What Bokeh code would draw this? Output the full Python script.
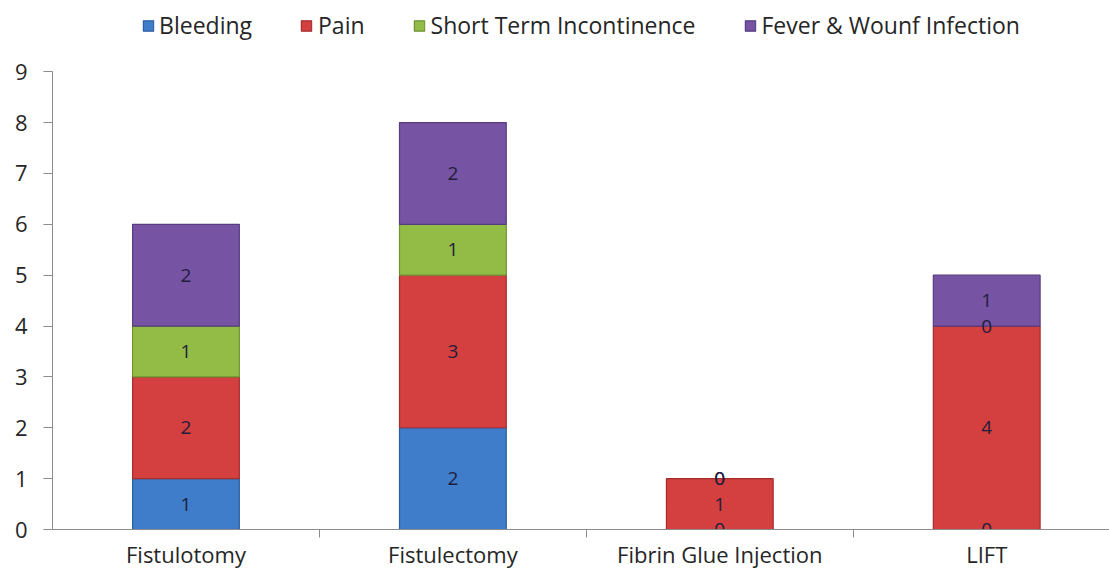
from bokeh.plotting import figure
from bokeh.models import ColumnDataSource, Range1d, FixedTicker, Legend, LegendItem
from bokeh.core.properties import value
from bokeh.embed import file_html
from bokeh.resources import INLINE

categories = ["Fistulotomy", "Fistulectomy", "Fibrin Glue Injection", "LIFT"]
series_names = ["Bleeding", "Pain", "Short Term Incontinence", "Fever & Wounf Infection"]
bleeding = [1, 2, 0, 0]
pain = [2, 3, 1, 4]
incontinence = [1, 1, 0, 0]
fever = [2, 2, 0, 1]
y_ticks = [0, 1, 2, 3, 4, 5, 6, 7, 8, 9]

series_values = [bleeding, pain, incontinence, fever]
fills = ["#3F7DCA", "#D43F3F", "#93BC46", "#7654A3"]
lines = ["#2D5E9E", "#A32E2E", "#6F9232", "#573D80"]

x_pos = [i + 0.5 for i in range(len(categories))]

# frame spans the full height; the y axis is bounded to 0..9 so that the
# legend can sit inside the frame above the axis top
p = figure(width=1109, height=571, x_range=Range1d(0, 3.96), y_range=Range1d(0, 10.4),
           output_backend="svg", toolbar_location=None,
           min_border_left=52, min_border_right=0, min_border_top=0, min_border_bottom=42)
p.outline_line_color = None
p.xgrid.visible = False
p.ygrid.visible = False
p.background_fill_color = "white"

bottoms = [0] * len(categories)
items = []
label_x, label_y, label_t = [], [], []
for name, vals, fc, lc in zip(series_names, series_values, fills, lines):
    tops = [b + v for b, v in zip(bottoms, vals)]
    keep = [i for i, v in enumerate(vals) if v > 0]
    src = ColumnDataSource(dict(x=[x_pos[i] for i in keep],
                                top=[tops[i] for i in keep],
                                bottom=[bottoms[i] for i in keep]))
    r = p.vbar(x="x", top="top", bottom="bottom", width=0.4, source=src,
               fill_color=fc, line_color=lc, line_width=1.2)
    items.append(LegendItem(label=name, renderers=[r]))
    for i, v in enumerate(vals):
        label_x.append(x_pos[i])
        label_y.append((bottoms[i] + tops[i]) / 2)
        label_t.append(str(v))
    bottoms = tops

p.text(x=label_x, y=label_y, text=label_t, text_align="center", text_baseline="middle",
       text_font=value("Open Sans"), text_font_size="19px", text_color="#1E1E3C")

# y axis
p.yaxis.ticker = FixedTicker(ticks=y_ticks)
p.yaxis.bounds = (0, 9)
p.yaxis.axis_line_color = "#8C8C8C"
p.yaxis.major_tick_line_color = "#8C8C8C"
p.yaxis.major_tick_out = 9
p.yaxis.major_tick_in = 0
p.yaxis.minor_tick_line_color = None
p.yaxis.major_label_standoff = 16
p.yaxis.major_label_text_font = "Open Sans"
p.yaxis.major_label_text_font_size = "22px"
p.yaxis.major_label_text_color = "#262626"

# x axis
p.xaxis.ticker = FixedTicker(ticks=x_pos, minor_ticks=[1, 2, 3])
p.xaxis.major_label_overrides = {x: c for x, c in zip(x_pos, categories)}
p.xaxis.axis_line_color = "#8C8C8C"
p.xaxis.major_tick_line_color = None
p.xaxis.major_tick_out = 0
p.xaxis.major_tick_in = 0
p.xaxis.minor_tick_line_color = "#8C8C8C"
p.xaxis.minor_tick_out = 8
p.xaxis.minor_tick_in = 0
p.xaxis.major_label_standoff = 1
p.xaxis.major_label_text_font = "Open Sans"
p.xaxis.major_label_text_font_size = "22px"
p.xaxis.major_label_text_color = "#262626"

legend = Legend(items=items, orientation="horizontal", location="top_center",
                padding=0, margin=9, spacing=48, label_standoff=5,
                glyph_width=13, glyph_height=13, border_line_color=None,
                background_fill_alpha=0,
                label_text_font="Open Sans", label_text_font_size="23px",
                label_text_color="#262626")
p.add_layout(legend, "center")

open("out.html", "w").write(file_html(p, INLINE))
